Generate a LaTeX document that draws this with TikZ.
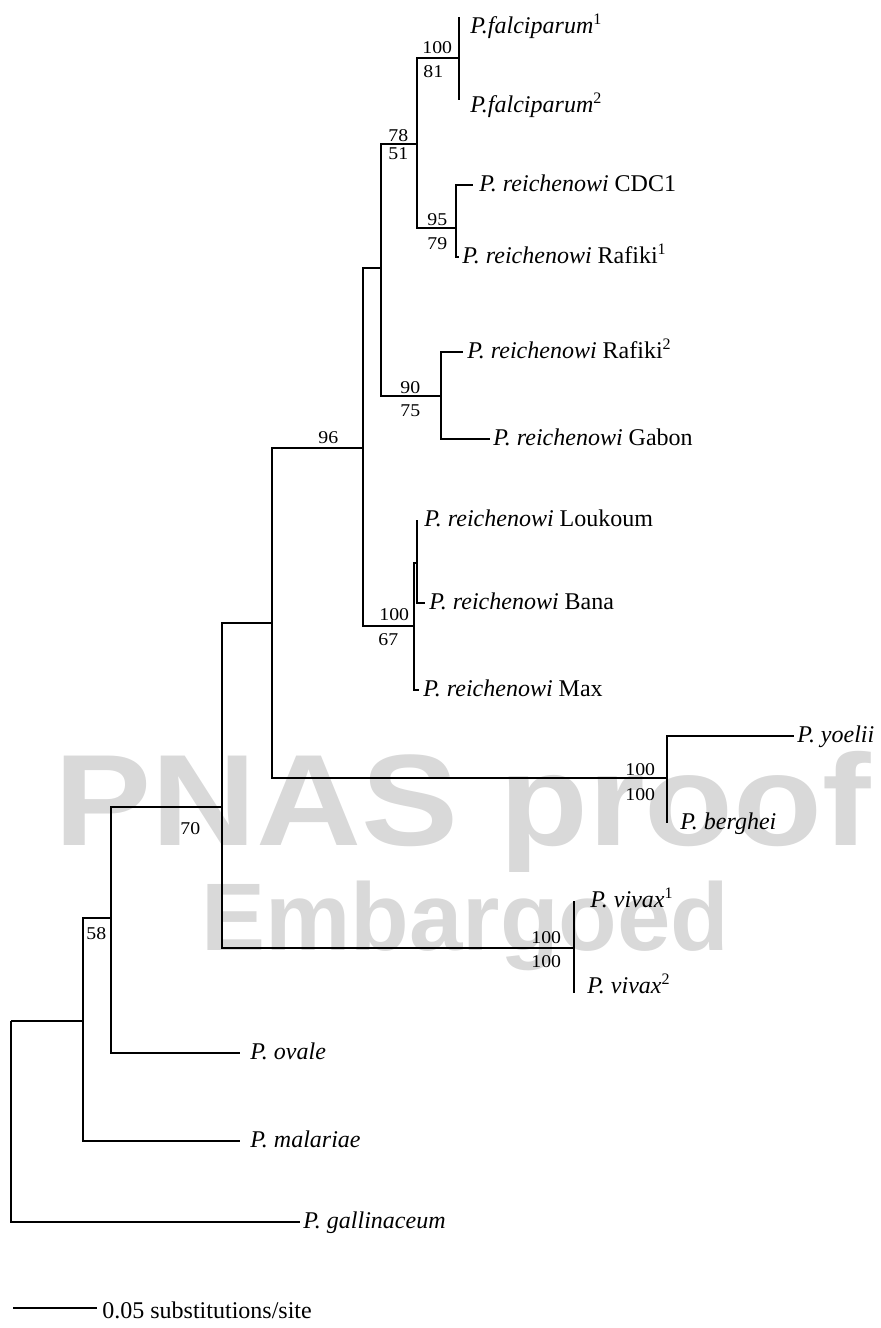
\documentclass[tikz,border=0pt]{standalone}
\usepackage{fontspec}
\setmainfont{Liberation Serif}
\newfontfamily\wmfont{Liberation Sans}
\newfontfamily\bootfont{Liberation Serif}[FakeStretch=1.1]
\usepackage{graphicx}
\usepackage{tikz}

\begin{document}
\begin{tikzpicture}[
  x=0.5pt, y=-0.5pt,
  branch/.style={line width=0.9pt, draw=black},
  taxon/.style={anchor=base west, inner sep=0pt, font=\fontsize{12}{14}\selectfont,
                xshift=#1, yshift=-3pt},
  taxon/.default=2pt,
  boot/.style={anchor=base west, inner sep=0pt, font=\bootfont\fontsize{9}{11}\selectfont},
  wmark/.style={anchor=base west, inner sep=0pt, text=black!15}
]
\useasboundingbox (0,0) rectangle (880,1328);

% ── Watermark behind the tree ──
\node[wmark, font=\wmfont\bfseries\fontsize{65}{70}\selectfont] (wm-a) at (54,845)
  {\scalebox{1.12}[1]{PNAS proof}};
\node[wmark, font=\wmfont\bfseries\fontsize{48}{52}\selectfont] (wm-b) at (201,950)
  {Embargoed};

% ── Inner nodes ──
\coordinate (root)  at (11,1021);
\coordinate (n-mal) at (83,1021);
\coordinate (n-ova) at (111,918);
\coordinate (n-mam) at (222,807);
\coordinate (n-hom) at (272,623);
\coordinate (n-rei) at (363,448);
\coordinate (n-fr)  at (381,268);
\coordinate (n-fc)  at (417,144);
\coordinate (n-fal) at (459,58);
\coordinate (n-cdc) at (456,228);
\coordinate (n-gab) at (441,396);
\coordinate (n-lbm) at (414,626);
\coordinate (n-lb)  at (417,563);
\coordinate (n-rod) at (667,778);
\coordinate (n-viv) at (574,948);

% ── Tips ──
\coordinate (t-fal1) at (459,17);
\coordinate (t-fal2) at (459,100);
\coordinate (t-cdc1) at (473,185);
\coordinate (t-raf1) at (459,257);
\coordinate (t-raf2) at (463,352);
\coordinate (t-gab)  at (490,439);
\coordinate (t-lou)  at (417,520);
\coordinate (t-ban)  at (425,603);
\coordinate (t-max)  at (419,690);
\coordinate (t-yoe)  at (794,736);
\coordinate (t-ber)  at (667,823);
\coordinate (t-viv1) at (574,901);
\coordinate (t-viv2) at (574,993);
\coordinate (t-ova)  at (240,1053);
\coordinate (t-mal)  at (240,1141);
\coordinate (t-gal)  at (300,1222);

% ── Branches ──
\draw[branch] (root)  |- (n-mal)  (root)  |- (t-gal);
\draw[branch] (n-mal) |- (n-ova)  (n-mal) |- (t-mal);
\draw[branch] (n-ova) |- (n-mam)  (n-ova) |- (t-ova);
\draw[branch] (n-mam) |- (n-hom)  (n-mam) |- (n-viv);
\draw[branch] (n-hom) |- (n-rei)  (n-hom) |- (n-rod);
\draw[branch] (n-rei) |- (n-fr)   (n-rei) |- (n-lbm);
\draw[branch] (n-fr)  |- (n-fc)   (n-fr)  |- (n-gab);
\draw[branch] (n-fc)  |- (n-fal)  (n-fc)  |- (n-cdc);
\draw[branch] (n-fal) |- (t-fal1) (n-fal) |- (t-fal2);
\draw[branch] (n-cdc) |- (t-cdc1) (n-cdc) |- (t-raf1);
\draw[branch] (n-gab) |- (t-raf2) (n-gab) |- (t-gab);
\draw[branch] (n-lbm) |- (n-lb)   (n-lbm) |- (t-max);
\draw[branch] (n-lb)  |- (t-lou)  (n-lb)  |- (t-ban);
\draw[branch] (n-rod) |- (t-yoe)  (n-rod) |- (t-ber);
\draw[branch] (n-viv) |- (t-viv1) (n-viv) |- (t-viv2);

% ── Taxa ──
\node[taxon=5.5pt, yshift=-5pt] (l-fal1) at (t-fal1) {\textit{P.falciparum}\textsuperscript{1}};
\node[taxon=5.5pt, yshift=-3pt] (l-fal2) at (t-fal2) {\textit{P.falciparum}\textsuperscript{2}};
\node[taxon=3pt]   (l-cdc1) at (t-cdc1) {\textit{P. reichenowi} CDC1};
\node[taxon=1.5pt] (l-raf1) at (t-raf1) {\textit{P. reichenowi} Rafiki\textsuperscript{1}};
\node[taxon]       (l-raf2) at (t-raf2) {\textit{P. reichenowi} Rafiki\textsuperscript{2}};
\node[taxon=1.5pt] (l-gab)  at (t-gab)  {\textit{P. reichenowi} Gabon};
\node[taxon=3.5pt] (l-lou)  at (t-lou)  {\textit{P. reichenowi} Loukoum};
\node[taxon]       (l-ban)  at (t-ban)  {\textit{P. reichenowi} Bana};
\node[taxon]       (l-max)  at (t-max)  {\textit{P. reichenowi} Max};
\node[taxon=1.5pt] (l-yoe)  at (t-yoe)  {\textit{P. yoelii}};
\node[taxon=6.5pt] (l-ber)  at (t-ber)  {\textit{P. berghei}};
\node[taxon=8pt]   (l-viv1) at (t-viv1) {\textit{P. vivax}\textsuperscript{1}};
\node[taxon=6.5pt, yshift=3pt] (l-viv2) at (t-viv2) {\textit{P. vivax}\textsuperscript{2}};
\node[taxon=5pt]   (l-ova)  at (t-ova)  {\textit{P. ovale}};
\node[taxon=5pt]   (l-mal)  at (t-mal)  {\textit{P. malariae}};
\node[taxon=1.5pt] (l-gal)  at (t-gal)  {\textit{P. gallinaceum}};

% ── Bootstrap values ──
\node[boot] (b-fal-a) at (422,53)  {100};
\node[boot] (b-fal-b) at (423,77)  {81};
\node[boot] (b-fc-a)  at (388,141) {78};
\node[boot] (b-fc-b)  at (388,159) {51};
\node[boot] (b-cdc-a) at (427,225) {95};
\node[boot] (b-cdc-b) at (427,249) {79};
\node[boot] (b-gab-a) at (400,393) {90};
\node[boot] (b-gab-b) at (400,416) {75};
\node[boot] (b-lbm-a) at (379,620) {100};
\node[boot] (b-lbm-b) at (378,645) {67};
\node[boot] (b-rei)   at (318,443) {96};
\node[boot] (b-rod-a) at (625,775) {100};
\node[boot] (b-rod-b) at (625,800) {100};
\node[boot] (b-viv-a) at (531,943) {100};
\node[boot] (b-viv-b) at (531,967) {100};
\node[boot] (b-mam)   at (180,834) {70};
\node[boot] (b-ova)   at (86,939)  {58};

% ── Scale bar ──
\coordinate (sb-a) at (13,1308);
\coordinate (sb-b) at (97,1308);
\draw[branch] (sb-a) -- (sb-b);
\node[anchor=base west, inner sep=0pt, font=\fontsize{12}{14}\selectfont,
      xshift=2.5pt, yshift=-5pt] (sb-l) at (sb-b) {0.05 substitutions/site};

\end{tikzpicture}
\end{document}
